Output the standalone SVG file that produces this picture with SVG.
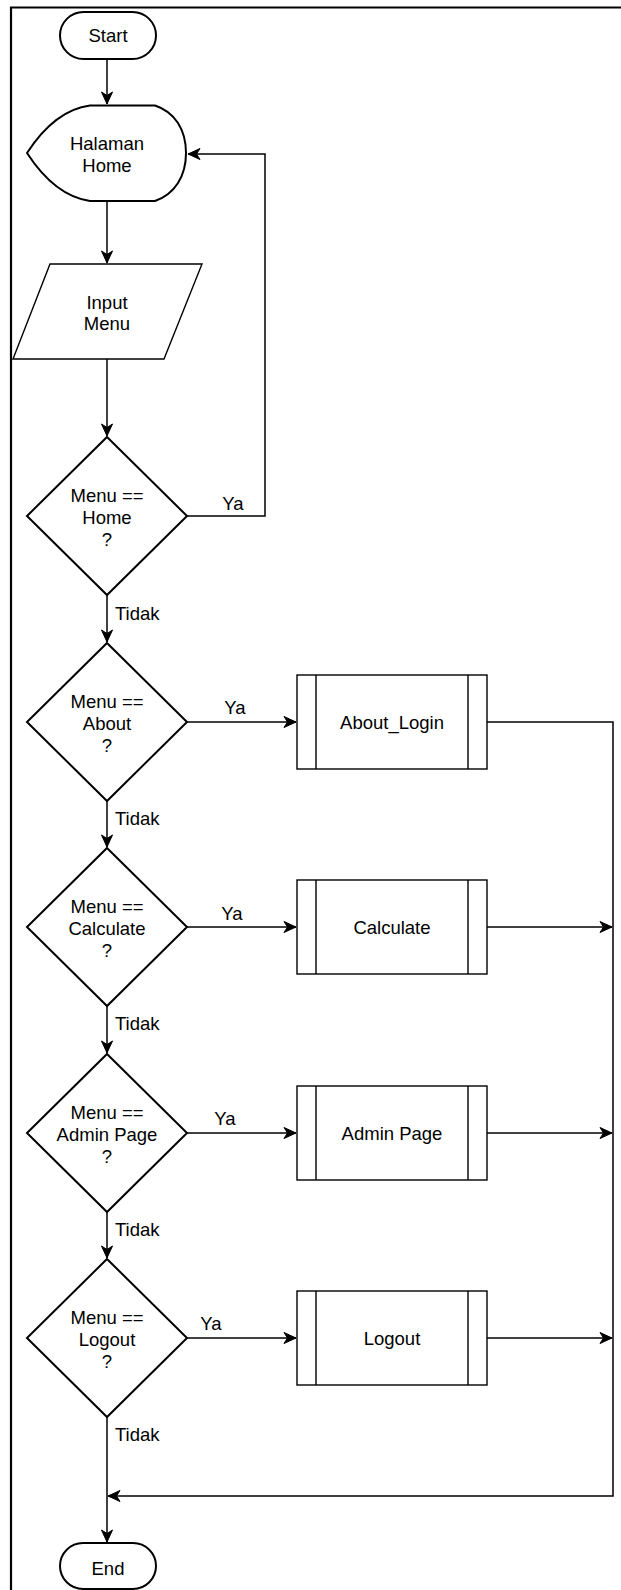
<svg xmlns="http://www.w3.org/2000/svg" width="621" height="1590" viewBox="0 0 621 1590">
<style>
text{font-family:"Liberation Sans",Arial,Helvetica,sans-serif;font-size:18.5px;fill:#000;text-anchor:middle}
.lbl{text-anchor:start}
.thick{fill:#fff;stroke:#000;stroke-width:2}
.thin{fill:#fff;stroke:#000;stroke-width:1.4}
.conn{fill:none;stroke:#000;stroke-width:1.5}
</style>
<defs>
<marker id="arr" markerUnits="userSpaceOnUse" markerWidth="13" markerHeight="12" refX="12" refY="5.5" orient="auto" overflow="visible">
<path d="M0,0 L12,5.5 L0,11 L3.5,5.5 Z" fill="#000" stroke="#000" stroke-width="1"/>
</marker>
</defs>
<rect width="621" height="1590" fill="#fff"/>
<path d="M11,1600 L11,7.5 L630,7.5" fill="none" stroke="#000" stroke-width="2.2"/>

<g id="connectors">
<path class="conn" d="M107,59 L107,104" marker-end="url(#arr)"/>
<path class="conn" d="M107,201 L107,263" marker-end="url(#arr)"/>
<path class="conn" d="M107,359 L107,436" marker-end="url(#arr)"/>
<path class="conn" d="M187,516 L265,516 L265,154 L188,154" marker-end="url(#arr)"/>
<path class="conn" d="M107,595 L107,642" marker-end="url(#arr)"/>
<path class="conn" d="M187,722 L296,722" marker-end="url(#arr)"/>
<path class="conn" d="M107,801 L107,847" marker-end="url(#arr)"/>
<path class="conn" d="M187,927 L296,927" marker-end="url(#arr)"/>
<path class="conn" d="M107,1006 L107,1053" marker-end="url(#arr)"/>
<path class="conn" d="M187,1133 L296,1133" marker-end="url(#arr)"/>
<path class="conn" d="M107,1212 L107,1258" marker-end="url(#arr)"/>
<path class="conn" d="M187,1338 L296,1338" marker-end="url(#arr)"/>
<path class="conn" d="M487,722 L613,722 L613,1496 L108,1496" marker-end="url(#arr)"/>
<path class="conn" d="M487,927 L612,927" marker-end="url(#arr)"/>
<path class="conn" d="M487,1133 L612,1133" marker-end="url(#arr)"/>
<path class="conn" d="M487,1338 L612,1338" marker-end="url(#arr)"/>
<path class="conn" d="M107,1417 L107,1542" marker-end="url(#arr)"/>
<text x="233" y="509.5">Ya</text>
<text x="235" y="713.5">Ya</text>
<text x="232" y="919.5">Ya</text>
<text x="225" y="1124.5">Ya</text>
<text x="211" y="1329.5">Ya</text>
<text class="lbl" x="115" y="619.5">Tidak</text>
<text class="lbl" x="115" y="824.5">Tidak</text>
<text class="lbl" x="115" y="1029.5">Tidak</text>
<text class="lbl" x="115" y="1235.5">Tidak</text>
<text class="lbl" x="115" y="1440.5">Tidak</text>
</g>

<g id="start">
<rect class="thick" x="60" y="12" width="96" height="47" rx="23.5" ry="23.5"/>
<text x="108" y="42">Start</text>
</g>

<g id="halaman-home">
<path class="thick" d="M27,153 Q55,110 90,105.5 L155,105.5 C175,112 186,130 186,153 C186,176 175,194 155,201 L90,201 Q55,196 27,153 Z"/>
<text x="107" y="150">Halaman</text>
<text x="107" y="172">Home</text>
</g>

<g id="input-menu">
<path class="thin" d="M50,264 L202,264 L164,359 L13,359 Z"/>
<text x="107" y="308.5">Input</text>
<text x="107" y="330">Menu</text>
</g>

<g id="dec-home">
<path class="thick" d="M107,437 L187,516 L107,595 L27,516 Z"/>
<text x="107" y="502">Menu ==</text>
<text x="107" y="524">Home</text>
<text x="107" y="546">?</text>
</g>

<g id="dec-about">
<path class="thick" d="M107,643 L187,722 L107,801 L27,722 Z"/>
<text x="107" y="708">Menu ==</text>
<text x="107" y="730">About</text>
<text x="107" y="752">?</text>
</g>

<g id="dec-calculate">
<path class="thick" d="M107,848 L187,927 L107,1006 L27,927 Z"/>
<text x="107" y="913">Menu ==</text>
<text x="107" y="935">Calculate</text>
<text x="107" y="957">?</text>
</g>

<g id="dec-admin">
<path class="thick" d="M107,1054 L187,1133 L107,1212 L27,1133 Z"/>
<text x="107" y="1119">Menu ==</text>
<text x="107" y="1141">Admin Page</text>
<text x="107" y="1163">?</text>
</g>

<g id="dec-logout">
<path class="thick" d="M107,1259 L187,1338 L107,1417 L27,1338 Z"/>
<text x="107" y="1324">Menu ==</text>
<text x="107" y="1346">Logout</text>
<text x="107" y="1368">?</text>
</g>

<g id="about-login">
<rect class="thin" x="297" y="675" width="190" height="94"/>
<path class="thin" d="M316,675 L316,769 M468,675 L468,769"/>
<text x="392" y="728.5">About_Login</text>
</g>

<g id="calculate">
<rect class="thin" x="297" y="880" width="190" height="94"/>
<path class="thin" d="M316,880 L316,974 M468,880 L468,974"/>
<text x="392" y="933.5">Calculate</text>
</g>

<g id="admin-page">
<rect class="thin" x="297" y="1086" width="190" height="94"/>
<path class="thin" d="M316,1086 L316,1180 M468,1086 L468,1180"/>
<text x="392" y="1139.5">Admin Page</text>
</g>

<g id="logout">
<rect class="thin" x="297" y="1291" width="190" height="94"/>
<path class="thin" d="M316,1291 L316,1385 M468,1291 L468,1385"/>
<text x="392" y="1344.5">Logout</text>
</g>

<g id="end">
<rect class="thick" x="60" y="1543" width="96" height="46" rx="23" ry="23"/>
<text x="108" y="1574.5">End</text>
</g>
</svg>
